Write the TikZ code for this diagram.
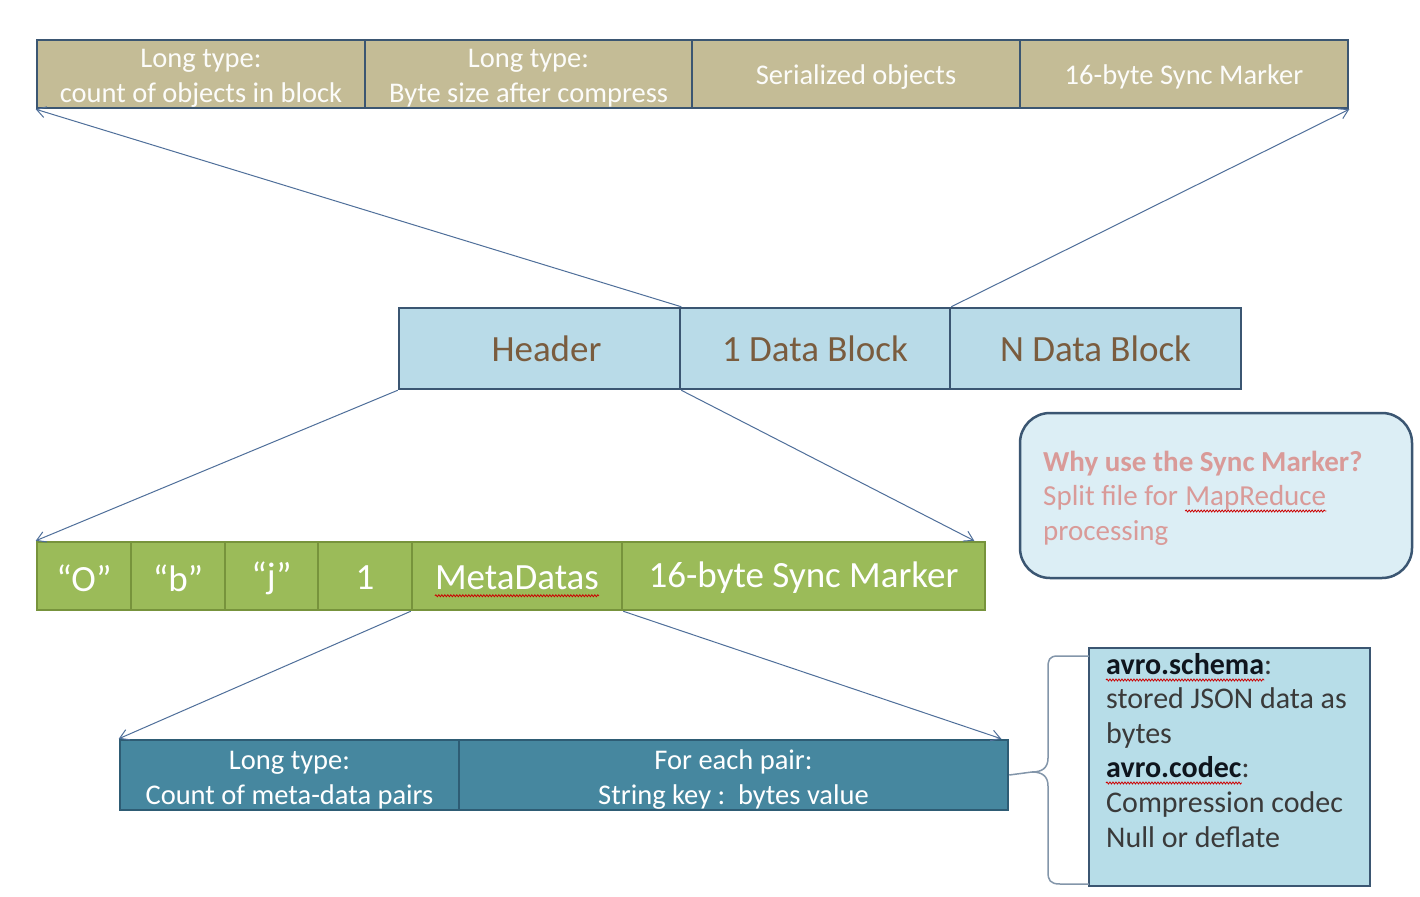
\documentclass[tikz,border=0pt]{standalone}
\usepackage{fontspec}
\setmainfont{Carlito}
\usetikzlibrary{arrows.meta,decorations.pathmorphing}
\definecolor{tanfill}{HTML}{C4BC96}
\definecolor{slate}{HTML}{3B5672}
\definecolor{midfill}{HTML}{B9DBE8}
\definecolor{midtext}{HTML}{7A5C3E}
\definecolor{grnfill}{HTML}{9BBB59}
\definecolor{grnline}{HTML}{77933C}
\definecolor{botfill}{HTML}{46879F}
\definecolor{botline}{HTML}{2E5C74}
\definecolor{notefill}{HTML}{B7DDE8}
\definecolor{callfill}{HTML}{DCEEF5}
\definecolor{pinktext}{HTML}{D99A98}
\definecolor{linkcol}{HTML}{4F6F9A}
\definecolor{bracecol}{HTML}{8396AA}
\definecolor{darktext}{HTML}{3A3A3A}
\tikzset{
  cell/.style={draw, line width=2.5pt, inner sep=0pt, align=center},
  topcell/.style={cell, draw=slate, fill=tanfill},
  toptext/.style={inner sep=0pt, align=center, text=white!95!tanfill, font=\fontsize{28.5}{35}\selectfont},
  midcell/.style={cell, draw=slate, fill=midfill, text=midtext, font=\fontsize{37}{42}\selectfont},
  grncell/.style={cell, draw=grnline, fill=grnfill},
  grntext/.style={inner sep=0pt, text=white, font=\fontsize{37}{42}\selectfont},
  botcell/.style={cell, draw=botline, fill=botfill},
  bottext/.style={inner sep=0pt, align=center, text=white, font=\fontsize{28.5}{35}\selectfont},
  arr/.style={draw=linkcol, line width=1pt, -{Straight Barb[length=9pt,width=11pt]}},
  squig/.style={draw=red!80!black, line width=0.8pt, decorate, decoration={snake, amplitude=1pt, segment length=3pt}},
  txt/.style={anchor=base west, inner sep=0pt, font=\fontsize{30}{34}\selectfont},
  ctxt/.style={anchor=base west, inner sep=0pt, font=\fontsize{29}{34}\selectfont},
}
\begin{document}
\begin{tikzpicture}[x=1pt,y=-1pt]
\useasboundingbox (0,0) rectangle (1420,896);
\fill[white] (0,0) rectangle (1420,896);
% top bar
\node[topcell, minimum width=328pt, minimum height=68pt] (t1) at (201,74) {};
\node[topcell, minimum width=327pt, minimum height=68pt] (t2) at (528.5,74) {};
\node[topcell, minimum width=328pt, minimum height=68pt] (t3) at (856,74) {};
\node[topcell, minimum width=328pt, minimum height=68pt] (t4) at (1184,74) {};
\node[toptext] (t1t) at ([yshift=-4pt]t1) {Long type:\\count of objects in block};
\node[toptext] (t2t) at ([yshift=-4pt]t2) {Long type:\\Byte size after compress};
\node[toptext] (t3t) at ([yshift=-3pt]t3) {Serialized objects};
\node[toptext] (t4t) at ([yshift=-3pt]t4) {16-byte Sync Marker};
% middle bar
\node[midcell, minimum width=281pt, minimum height=81pt] (m1) at (539.5,348.5) {\hspace*{14pt}Header};
\node[midcell, minimum width=270pt, minimum height=81pt] (m2) at (815,348.5) {1 Data Block};
\node[midcell, minimum width=291pt, minimum height=81pt] (m3) at (1095.5,348.5) {N Data Block};
% green bar
\node[grncell, minimum width=94pt, minimum height=68pt] (g1) at (84,576) {};
\node[grncell, minimum width=94pt, minimum height=68pt] (g2) at (178,576) {};
\node[grncell, minimum width=93pt, minimum height=68pt] (g3) at (271.5,576) {};
\node[grncell, minimum width=94pt, minimum height=68pt] (g4) at (365,576) {};
\node[grncell, minimum width=210pt, minimum height=68pt] (g5) at (517,576) {};
\node[grncell, minimum width=363pt, minimum height=68pt] (g6) at (803.5,576) {};
\node[grntext] (g1t) at ([yshift=-2pt]g1) {“O”};
\node[grntext] (g2t) at ([yshift=-2pt]g2) {“b”};
\node[grntext] (g3t) at ([yshift=-2pt]g3) {“j”};
\node[grntext] (g4t) at ([yshift=-2pt]g4) {1};
\node[grntext] (g5t) at ([yshift=-2pt]g5) {MetaDatas};
\node[grntext] (g6t) at ([yshift=-2pt]g6) {16-byte Sync Marker};
% bottom bar
\node[botcell, minimum width=339pt, minimum height=70pt] (b1) at (289.5,775) {};
\node[botcell, minimum width=549pt, minimum height=70pt] (b2) at (733.5,775) {};
\node[bottext] (b1t) at ([yshift=-5pt]b1) {Long type:\\Count of meta-data pairs};
\node[bottext] (b2t) at ([yshift=-5pt]b2) {For each pair:\\String key :\ \ bytes value};
% connectors
\draw[arr] (m1.north east) -- (t1.south west);
\draw[arr] (m2.north east) -- (t4.south east);
\draw[arr] (m1.south west) -- (g1.north west);
\draw[arr] (m1.south east) -- ([xshift=-12pt]g6.north east);
\draw[arr] (g5.south west) -- (b1.north west);
\draw[arr] (g5.south east) -- ([xshift=-8pt]b2.north east);
% callout
\node[draw=slate, line width=2.5pt, fill=callfill, rounded corners=30pt, minimum width=392pt, minimum height=165pt, inner sep=0pt] (call) at (1216,495.5) {};
\node[ctxt, text=pinktext, font=\fontsize{29}{34}\selectfont\bfseries] (c1) at (1043,471) {Why use the Sync Marker?};
\node[ctxt, text=pinktext] (c2) at (1043,505) {Split file for};
\node[ctxt, text=pinktext] (c2b) at ([xshift=7pt]c2.base east) {MapReduce};
\node[ctxt, text=pinktext] (c3) at (1043,540) {processing};
% note box
\node[draw=slate, line width=2.5pt, fill=notefill, minimum width=281pt, minimum height=238pt, inner sep=0pt] (note) at (1229.5,767) {};
\node[txt, text=darktext] (n1) at (1106,674) {\textbf{\color{black!75!slate}avro.schema}:};
\node[txt, text=darktext] (n2) at (1106,708) {stored JSON data as};
\node[txt, text=darktext] (n3) at (1106,743) {bytes};
\node[txt, text=darktext] (n4) at (1106,777) {\textbf{\color{black!75!slate}avro.codec}:};
\node[txt, text=darktext] (n5) at (1106,812) {Compression codec};
\node[txt, text=darktext] (n6) at (1106,847) {Null or deflate};
% brace
\coordinate (tip) at (1032,772);
\draw[bracecol, line width=1.5pt] (1089,656) -- (1058,656) .. controls (1049,656) and (1048,660) .. (1048,668) -- (1048,758) .. controls (1048,768) and (1042,772) .. (tip) .. controls (1042,772) and (1048,776) .. (1048,786) -- (1048,872) .. controls (1048,880) and (1050,884) .. (1060,884) -- (1089,884);
\draw[bracecol, line width=1.5pt] (b2.east) -- (tip);
% spelling squiggles
\draw[squig] ([yshift=-6pt]g5t.base west) -- ([yshift=-6pt]g5t.base east);
\draw[squig] ([yshift=-6pt]c2b.base west) -- ([yshift=-6pt]c2b.base east);
\draw[squig] ([yshift=-6pt]n1.base west) -- ([yshift=-6pt,xshift=-8pt]n1.base east);
\draw[squig] ([yshift=-6pt]n4.base west) -- ([yshift=-6pt,xshift=-8pt]n4.base east);
\end{tikzpicture}
\end{document}
